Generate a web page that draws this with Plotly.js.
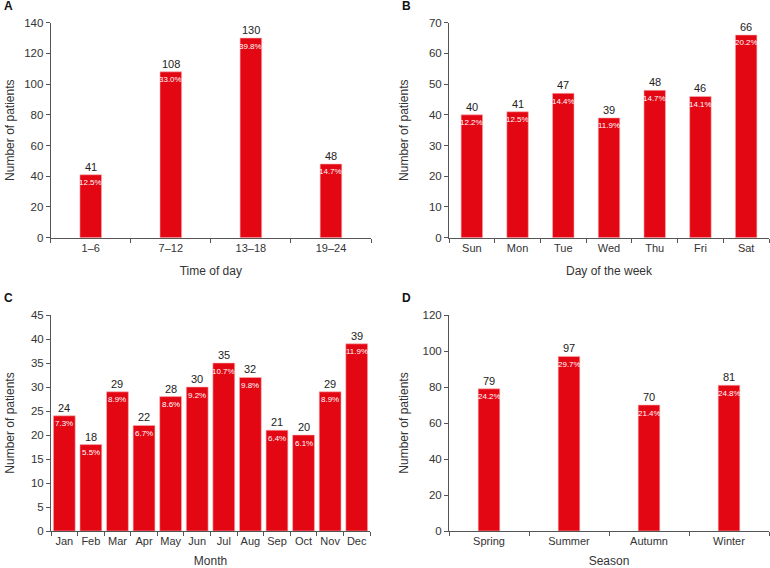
<!DOCTYPE html>
<html>
<head>
<meta charset="utf-8">
<script src="https://cdn.plot.ly/plotly-3.0.1.min.js"></script>
<style>html,body{margin:0;padding:0;background:#fff;}#chart{width:770px;height:568px;}</style>
</head>
<body>
<div id="chart"></div>
<script>
// Panel A: time of day
const timeCats = ['1–6', '7–12', '13–18', '19–24'];
const timeVals = [41, 108, 130, 48];
const timePct = ['12.5%', '33.0%', '39.8%', '14.7%'];
// Panel B: day of week
const dayCats = ['Sun', 'Mon', 'Tue', 'Wed', 'Thu', 'Fri', 'Sat'];
const dayVals = [40, 41, 47, 39, 48, 46, 66];
const dayPct = ['12.2%', '12.5%', '14.4%', '11.9%', '14.7%', '14.1%', '20.2%'];
// Panel C: month
const monthCats = ['Jan', 'Feb', 'Mar', 'Apr', 'May', 'Jun', 'Jul', 'Aug', 'Sep', 'Oct', 'Nov', 'Dec'];
const monthVals = [24, 18, 29, 22, 28, 30, 35, 32, 21, 20, 29, 39];
const monthPct = ['7.3%', '5.5%', '8.9%', '6.7%', '8.6%', '9.2%', '10.7%', '9.8%', '6.4%', '6.1%', '8.9%', '11.9%'];
// Panel D: season
const seasonCats = ['Spring', 'Summer', 'Autumn', 'Winter'];
const seasonVals = [79, 97, 70, 81];
const seasonPct = ['24.2%', '29.7%', '21.4%', '24.8%'];

const RED = '#e30613';
const FONT = 'Liberation Sans, Arial, sans-serif';

const data = [];
const labels = [];
function panel(cats, vals, pct, xa, ya, w) {
  data.push({type: 'bar', x: cats, y: vals, xaxis: xa, yaxis: ya, width: w,
     marker: {color: RED, line: {color: '#f6b3b3', width: 0.6}}});
  cats.forEach((c, i) => {
    labels.push({xref: xa, yref: ya, x: c, y: vals[i], text: String(vals[i]),
      showarrow: false, xanchor: 'center', yanchor: 'bottom', yshift: 0,
      font: {family: FONT, size: 11, color: '#222'}});
    labels.push({xref: xa, yref: ya, x: c, y: vals[i], text: pct[i],
      showarrow: false, xanchor: 'center', yanchor: 'middle', yshift: -8,
      font: {family: FONT, size: 8, color: '#ffffff'}});
  });
}
panel(timeCats, timeVals, timePct, 'x', 'y', 0.27);
panel(dayCats, dayVals, dayPct, 'x2', 'y2', 0.47);
panel(monthCats, monthVals, monthPct, 'x3', 'y3', 0.82);
panel(seasonCats, seasonVals, seasonPct, 'x4', 'y4', 0.27);

const axisCommon = {
  showgrid: false, zeroline: false, showline: true, linecolor: '#555', linewidth: 1,
  ticks: 'outside', ticklen: 4, tickcolor: '#555',
  tickfont: {family: FONT, size: 11.5, color: '#333'}
};
function xax(domain, anchor, title) {
  return Object.assign({}, axisCommon, {
    domain: domain, anchor: anchor, type: 'category', tickson: 'boundaries', tickangle: 0,
    ticklen: 4, tickfont: {family: FONT, size: 11, color: '#333'},
    title: {text: title, font: {family: FONT, size: 12, color: '#333'}, standoff: 13}
  });
}
function yax(domain, anchor, range, dtick, standoff) {
  return Object.assign({}, axisCommon, {
    domain: domain, anchor: anchor, range: range, dtick: dtick, tick0: 0,
    title: {text: 'Number of patients', font: {family: FONT, size: 12, color: '#333'}, standoff: standoff}
  });
}

const xL = [50.7 / 770, 371 / 770];
const xR = [449 / 770, 769 / 770];
const yT = [1 - 237.7 / 568, 1 - 22.7 / 568];
const yB = [1 - 531 / 568, 1 - 315 / 568];

const letters = [
  {text: '<b>A</b>', x: 2 / 770, y: 1 - 6 / 568},
  {text: '<b>B</b>', x: 400 / 770, y: 1 - 6 / 568},
  {text: '<b>C</b>', x: 2 / 770, y: 1 - 298 / 568},
  {text: '<b>D</b>', x: 400 / 770, y: 1 - 298 / 568}
].map(a => Object.assign(a, {xref: 'paper', yref: 'paper', xanchor: 'left', yanchor: 'middle',
    showarrow: false, font: {family: FONT, size: 12, color: '#111'}}));

const layout = {
  width: 770, height: 568,
  margin: {l: 0, r: 0, t: 0, b: 0},
  paper_bgcolor: '#fff', plot_bgcolor: '#fff',
  showlegend: false,
  font: {family: FONT},
  xaxis: xax(xL, 'y', 'Time of day'),
  yaxis: yax(yT, 'x', [0, 140], 20, 7),
  xaxis2: xax(xR, 'y2', 'Day of the week'),
  yaxis2: yax(yT, 'x2', [0, 70], 10, 17),
  xaxis3: xax([51 / 770, 370 / 770], 'y3', 'Month'),
  yaxis3: yax(yB, 'x3', [0, 45], 5, 13),
  xaxis4: xax(xR, 'y4', 'Season'),
  yaxis4: yax(yB, 'x4', [0, 120], 20, 11),
  annotations: letters.concat(labels)
};

Plotly.newPlot('chart', data, layout, {displayModeBar: false, staticPlot: true});
</script>
</body>
</html>
